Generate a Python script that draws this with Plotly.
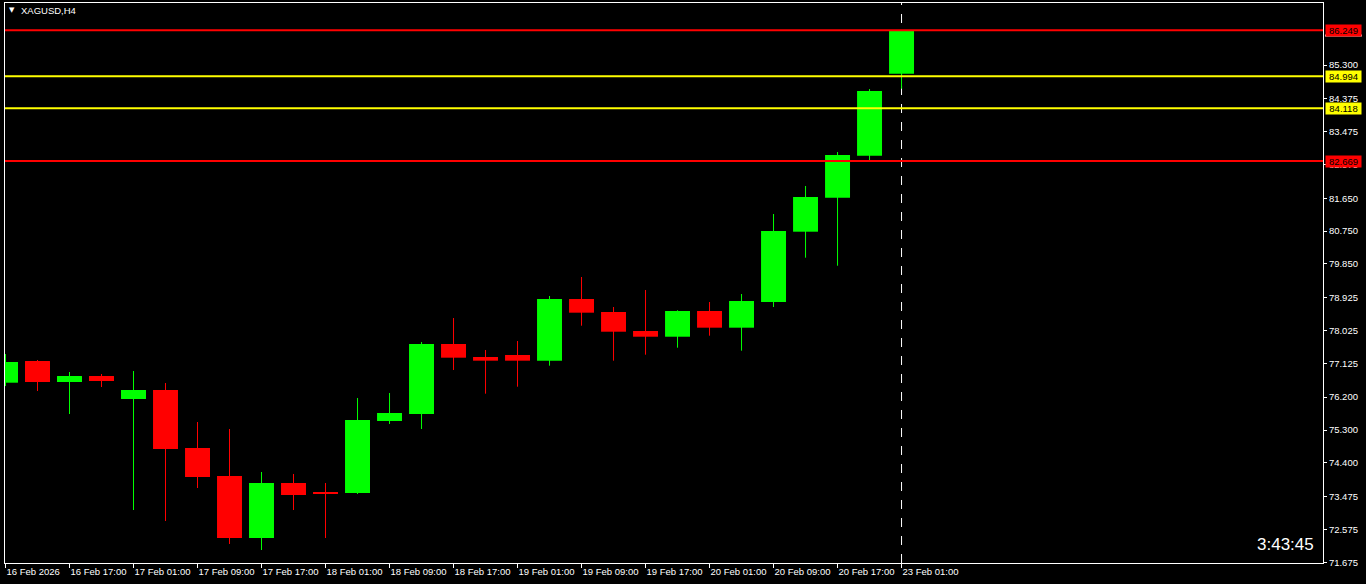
import plotly.graph_objects as go

# ---- data (XAGUSD H4) ----
opens  = [76.596, 77.190, 76.615, 76.779, 76.149, 76.396, 74.807, 74.040, 72.341, 73.848,
          73.601, 73.574, 75.547, 75.738, 77.656, 77.300, 77.355, 77.199, 78.889, 78.533,
          78.012, 77.856, 78.560, 78.103, 78.807, 80.733, 81.664, 82.815, 85.062]
highs  = [77.382, 77.218, 76.889, 76.834, 76.916, 76.588, 75.519, 75.327, 74.149, 74.095,
          73.848, 76.177, 76.314, 77.710, 78.368, 77.492, 77.738, 78.971, 79.492, 78.670,
          79.136, 78.580, 78.807, 79.026, 81.218, 81.985, 82.916, 84.642, 86.249]
lows   = [76.505, 76.368, 75.738, 76.478, 73.108, 72.807, 73.711, 72.177, 72.012, 73.108,
          72.341, 73.547, 75.464, 75.327, 76.944, 76.295, 76.486, 77.062, 78.158, 77.199,
          77.363, 77.555, 77.884, 77.473, 78.670, 80.021, 79.801, 82.678, 84.651]
closes = [77.163, 76.615, 76.779, 76.642, 76.396, 74.779, 74.012, 72.341, 73.848, 73.519,
          73.570, 75.574, 75.766, 77.656, 77.281, 77.199, 77.199, 78.889, 78.514, 77.993,
          77.856, 78.560, 78.103, 78.834, 80.752, 81.684, 82.834, 84.588, 86.249]

time_tick_labels = ["16 Feb 2026", "16 Feb 17:00", "17 Feb 01:00", "17 Feb 09:00", "17 Feb 17:00",
                    "18 Feb 01:00", "18 Feb 09:00", "18 Feb 17:00", "19 Feb 01:00", "19 Feb 09:00",
                    "19 Feb 17:00", "20 Feb 01:00", "20 Feb 09:00", "20 Feb 17:00", "23 Feb 01:00"]
price_ticks = [71.675, 72.575, 73.475, 74.400, 75.300, 76.200, 77.125, 78.025, 78.925,
               79.850, 80.750, 81.650, 82.575, 83.475, 84.375, 85.300]

red_levels = [86.249, 82.669]
yellow_levels = [84.994, 84.118]
ask_mark = 86.108
countdown = "3:43:45"
symbol = "XAGUSD,H4"

# ---- derived ----
n = len(opens)
xs = list(range(n))
bull = [c >= o for o, c in zip(opens, closes)]
GREEN, RED = "#00ff00", "#ff0000"

fig = go.Figure()

for is_bull, col in ((True, GREEN), (False, RED)):
    wx, wy = [], []
    for i in xs:
        if bull[i] == is_bull:
            wx += [i, i, None]
            wy += [lows[i], highs[i], None]
    fig.add_trace(go.Scatter(x=wx, y=wy, mode="lines", line=dict(color=col, width=1),
                             hoverinfo="skip", showlegend=False))

fig.add_trace(go.Bar(
    x=xs,
    base=[min(o, c) for o, c in zip(opens, closes)],
    y=[abs(c - o) for o, c in zip(opens, closes)],
    width=0.78,
    marker=dict(color=[GREEN if b else RED for b in bull], line=dict(width=0)),
    hoverinfo="skip", showlegend=False))

shapes = []
shapes.append(dict(type="line", xref="x", yref="paper", x0=xs[-1], x1=xs[-1], y0=0, y1=1,
                   line=dict(color="white", width=1, dash="dash"), layer="below"))
for lv in red_levels:
    shapes.append(dict(type="line", xref="paper", yref="y", x0=0, x1=1, y0=lv, y1=lv,
                       line=dict(color=RED, width=2)))
for lv in yellow_levels:
    shapes.append(dict(type="line", xref="paper", yref="y", x0=0, x1=1, y0=lv, y1=lv,
                       line=dict(color="#ffff00", width=2)))
shapes.append(dict(type="line", xref="paper", yref="y", x0=1.0015, x1=1.0295,
                   y0=ask_mark, y1=ask_mark, line=dict(color="white", width=2)))

annotations = []
for lv in red_levels:
    annotations.append(dict(xref="paper", x=1, xanchor="left", xshift=2, yref="y", y=lv,
                            yanchor="middle", text=f"{lv:.3f}", showarrow=False,
                            bgcolor=RED, width=35, height=11, borderpad=0,
                            font=dict(family="Liberation Sans", size=9.5, color="#000000")))
for lv in yellow_levels:
    annotations.append(dict(xref="paper", x=1, xanchor="left", xshift=2, yref="y", y=lv,
                            yanchor="middle", text=f"{lv:.3f}", showarrow=False,
                            bgcolor="#ffff00", width=35, height=11, borderpad=0,
                            font=dict(family="Liberation Sans", size=9.5, color="#000000")))
annotations.append(dict(xref="paper", x=0, xanchor="left", xshift=14, yref="paper", y=1,
                        yanchor="middle", yshift=-7, text=symbol, showarrow=False,
                        font=dict(family="Liberation Sans", size=9.5, color="white")))
annotations.append(dict(xref="paper", x=0, xanchor="left", xshift=2, yref="paper", y=1,
                        yanchor="middle", yshift=-7, text="▼", showarrow=False,
                        font=dict(family="DejaVu Sans", size=7, color="white")))
annotations.append(dict(xref="paper", x=1, xanchor="right", xshift=-7, yref="paper", y=0,
                        yanchor="middle", yshift=19, text=countdown, showarrow=False,
                        font=dict(family="Liberation Sans", size=17, color="white")))

fig.update_layout(
    width=1366, height=584,
    margin=dict(l=5, r=43, t=3, b=21, autoexpand=False),
    paper_bgcolor="black", plot_bgcolor="black",
    showlegend=False, hovermode=False,
    font=dict(family="Liberation Sans", size=9.5, color="white"),
    shapes=shapes, annotations=annotations,
    xaxis=dict(range=[-0.0156, 41.17], tickmode="array",
               tickvals=xs[::2], ticktext=time_tick_labels,
               ticklabelposition="outside right", tickangle=0, automargin=False,
               ticks="outside", ticklen=4, tickcolor="white",
               showgrid=False, zeroline=False,
               showline=True, linecolor="white", linewidth=1, mirror=True,
               tickfont=dict(family="Liberation Sans", size=9.5, color="white")),
    yaxis=dict(range=[71.656, 86.999], side="right", tickmode="array",
               tickvals=price_ticks, ticktext=[f"{v:.3f}" for v in price_ticks],
               automargin=False,
               ticks="outside", ticklen=3, tickcolor="white",
               showgrid=False, zeroline=False,
               showline=True, linecolor="white", linewidth=1, mirror=True,
               tickfont=dict(family="Liberation Sans", size=9.5, color="white")),
)

fig.write_html("out.html", config={"displayModeBar": False})

# remove the browser's default page margin so the figure fills the window exactly
with open("out.html", "r", encoding="utf-8") as f:
    html = f.read()
html = html.replace("<head>", "<head><style>html,body{margin:0;padding:0;background:#000;overflow:hidden;}</style>", 1)
with open("out.html", "w", encoding="utf-8") as f:
    f.write(html)
